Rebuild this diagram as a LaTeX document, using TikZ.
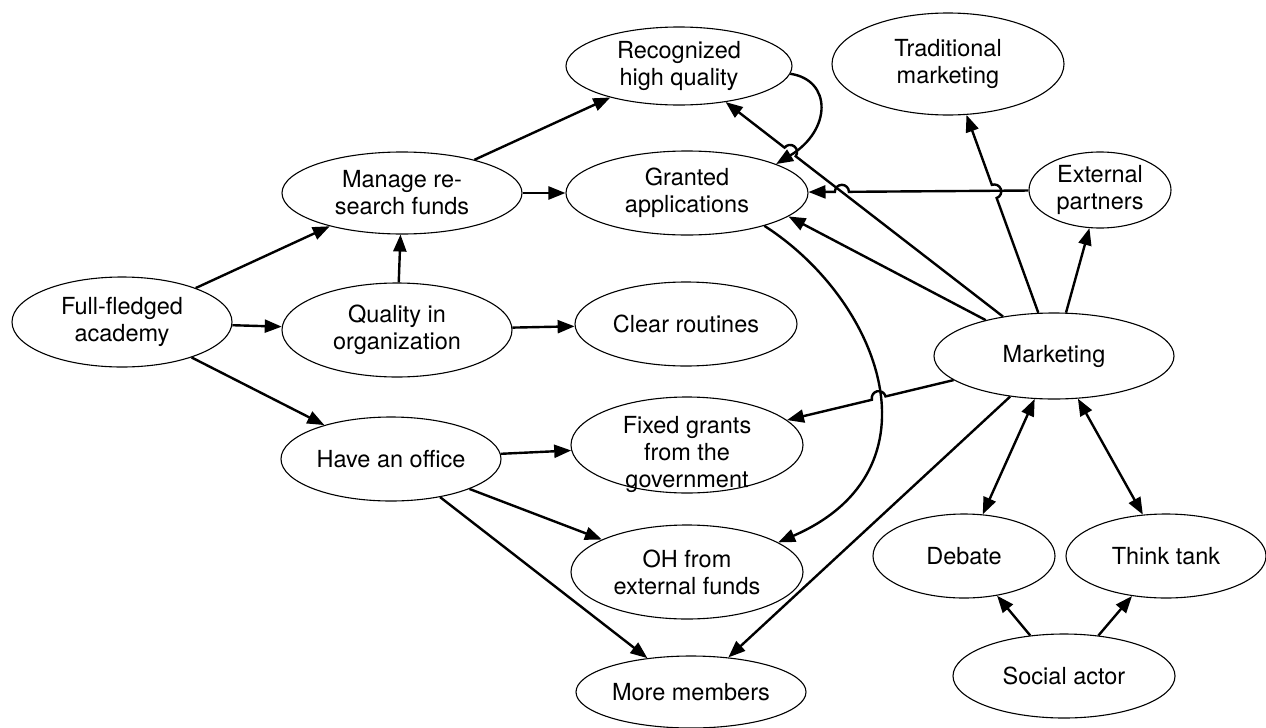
\documentclass[tikz,border=0pt]{standalone}
\usepackage{fontspec}
\setmainfont{TeX Gyre Heros}
\usetikzlibrary{shapes.geometric,arrows.meta,calc}
\begin{document}
\begin{tikzpicture}[x=1pt,y=-1pt,
  txt/.style={align=center,font=\fontsize{23.5}{27}\selectfont},
  box/.style={ellipse,draw,line width=1.1pt,inner sep=0pt,txt},
  conn/.style={line width=2.4pt,-{Triangle[length=17pt,width=13pt]}},
  both/.style={line width=2.4pt,{Triangle[length=17pt,width=13pt]}-{Triangle[length=17pt,width=13pt]}}]
\useasboundingbox (0,0) rectangle (1266,728);
% nodes
\node[box,minimum width=220pt,minimum height=90pt] (full) at (122,322) {Full-fledged\\academy};
\node[box,minimum width=240pt,minimum height=82pt] (manage) at (402,193) {Manage re-\\search funds};
\node[box,minimum width=230pt,minimum height=94pt] (quality) at (397,330) {Quality in\\organization};
\node[box,minimum width=222pt,minimum height=84pt] (clear) at (686,324) {Clear routines};
\node[box,minimum width=220pt,minimum height=84pt] (office) at (391,459) {Have an office};
\node[box,minimum width=226pt,minimum height=78pt] (rec) at (679,66) {Recognized\\high quality};
\node[box,minimum width=242pt,minimum height=84pt] (granted) at (687,193) {Granted\\applications};
\node[box,minimum width=232pt,minimum height=102pt] (trad) at (948,64) {Traditional\\marketing};
\node[box,minimum width=142pt,minimum height=76pt] (ext) at (1100,190) {External\\partners};
\node[box,minimum width=240pt,minimum height=86pt] (mkt) at (1054,356) {Marketing};
\node[box,minimum width=232pt,minimum height=96pt,
  label={[txt,yshift=-9pt]center:{Fixed grants\\from the\\government}}] (fixed) at (687,445) {};
\node[box,minimum width=232pt,minimum height=94pt] (oh) at (687,572) {OH from\\external funds};
\node[box,minimum width=230pt,minimum height=72pt] (more) at (691,692) {More members};
\node[box,minimum width=182pt,minimum height=84pt] (debate) at (964,556) {Debate};
\node[box,minimum width=200pt,minimum height=84pt] (think) at (1166,556) {Think tank};
\node[box,minimum width=222pt,minimum height=84pt] (social) at (1064,676) {Social actor};
% connectors
\draw[conn] (full) -- (manage);
\draw[conn] (full) -- (quality);
\draw[conn] (full) -- (office);
\draw[conn] (quality) -- (manage);
\draw[conn] (manage) -- (granted);
\draw[conn] (manage) -- (rec);
\draw[conn] (quality) -- (clear);
\draw[conn] (office) -- (fixed);
\draw[conn] (office) -- (oh);
\draw[conn] (office) -- (more);
\draw[conn] (granted.-23) .. controls (880,300) and (945,470) .. (oh.18);
\draw[conn] (rec.-4) .. controls (832,80) and (832,130) .. (granted.18);
\draw[conn] (mkt) -- ($(mkt)!0.689!(rec)$) arc[start angle=322.4,end angle=502.4,radius=7pt] -- (rec);
\draw[conn] (mkt) -- (granted.-13);
\draw[conn] (mkt) -- ($(mkt)!0.541!(trad)$) arc[start angle=290,end angle=470,radius=7pt] -- (trad);
\draw[conn] (ext) -- ($(ext)!0.608!(granted)$) arc[start angle=0,end angle=180,radius=7pt] -- (granted);
\draw[conn] (mkt) -- ($(mkt)!0.631!(fixed.14)$) arc[start angle=13.74,end angle=193.74,radius=7pt] -- (fixed.14);
\draw[conn] (mkt) -- (ext);
\draw[conn] (mkt) -- (more);
\draw[both] (mkt) -- (debate);
\draw[both] (mkt) -- (think);
\draw[conn] (social) -- (debate);
\draw[conn] (social) -- (think);
\end{tikzpicture}
\end{document}
